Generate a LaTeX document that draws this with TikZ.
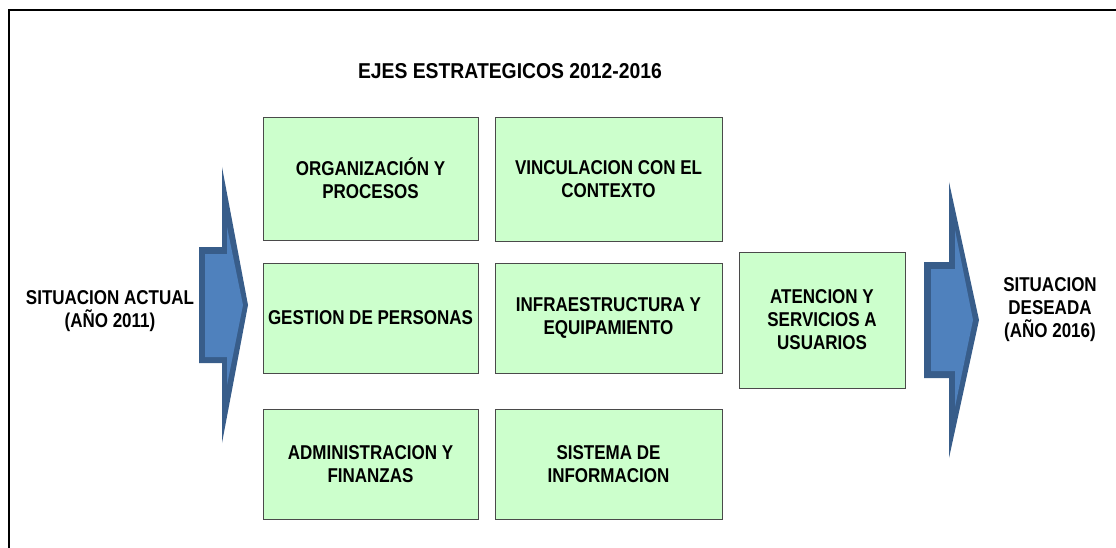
\documentclass[tikz,border=0pt]{standalone}
\usepackage{fontspec}
\setmainfont{Liberation Sans}[FakeStretch=0.85]
\newfontfamily\titlefont{Liberation Sans}[FakeStretch=0.9]
\definecolor{boxfill}{HTML}{CCFFCC}
\definecolor{boxline}{HTML}{4A4A4A}
\definecolor{arrfill}{HTML}{4F81BD}
\definecolor{arrline}{HTML}{385D8A}
\begin{document}
\begin{tikzpicture}[x=1pt,y=-1pt,
  lbl/.style={font=\fontsize{20}{23}\selectfont\bfseries, align=center, inner sep=0},
  eje/.style={lbl, draw=boxline, line width=0.9pt, fill=boxfill, minimum width=215pt, minimum height=110pt},
  wide/.style={minimum width=227pt}]
\useasboundingbox (0,0) rectangle (1116,548);
% frame
\draw[line width=2pt] (9,548) -- (9,10) -- (1116,10);
% title
\node[inner sep=0, font=\titlefont\fontsize{21.5}{24}\selectfont\bfseries] (title) at (510,71) {EJES ESTRATEGICOS 2012-2016};
% left arrow
\fill[arrline] (199,247) -- (222,247) -- (222,167) -- (248,305) -- (222,443) -- (222,363) -- (199,363) -- cycle;
\fill[arrfill] (205,254) -- (227,254) -- (227,227) -- (243,305) -- (227,385) -- (227,357) -- (205,357) -- cycle;
% right arrow
\fill[arrline] (924,262) -- (949,262) -- (949,182) -- (979,320) -- (949,458) -- (949,378) -- (924,378) -- cycle;
\fill[arrfill] (931,269) -- (955,269) -- (955,230) -- (973,320) -- (955,407) -- (955,371) -- (931,371) -- cycle;
% boxes
\node[eje, minimum height=123pt] (org) at (370.5,178.5) {ORGANIZACIÓN Y\\PROCESOS};
\node[eje, wide, minimum height=124pt] (vin) at (608.5,179) {VINCULACION CON EL\\CONTEXTO};
\node[eje] (ges) at (370.5,318) {GESTION DE PERSONAS};
\node[eje, wide] (inf) at (608.5,318) {INFRAESTRUCTURA Y\\EQUIPAMIENTO};
\node[eje] (adm) at (370.5,464) {ADMINISTRACION Y\\FINANZAS};
\node[eje, wide] (sis) at (608.5,464) {SISTEMA DE\\INFORMACION};
\node[eje, minimum width=166pt, minimum height=136pt] (ate) at (822,320) {ATENCION Y\\SERVICIOS A\\USUARIOS};
% side labels
\node[lbl] (actual) at (110,311) {SITUACION ACTUAL\\(AÑO 2011)};
\node[lbl] (deseada) at (1050,310) {SITUACION\\DESEADA\\(AÑO 2016)};
\end{tikzpicture}
\end{document}
